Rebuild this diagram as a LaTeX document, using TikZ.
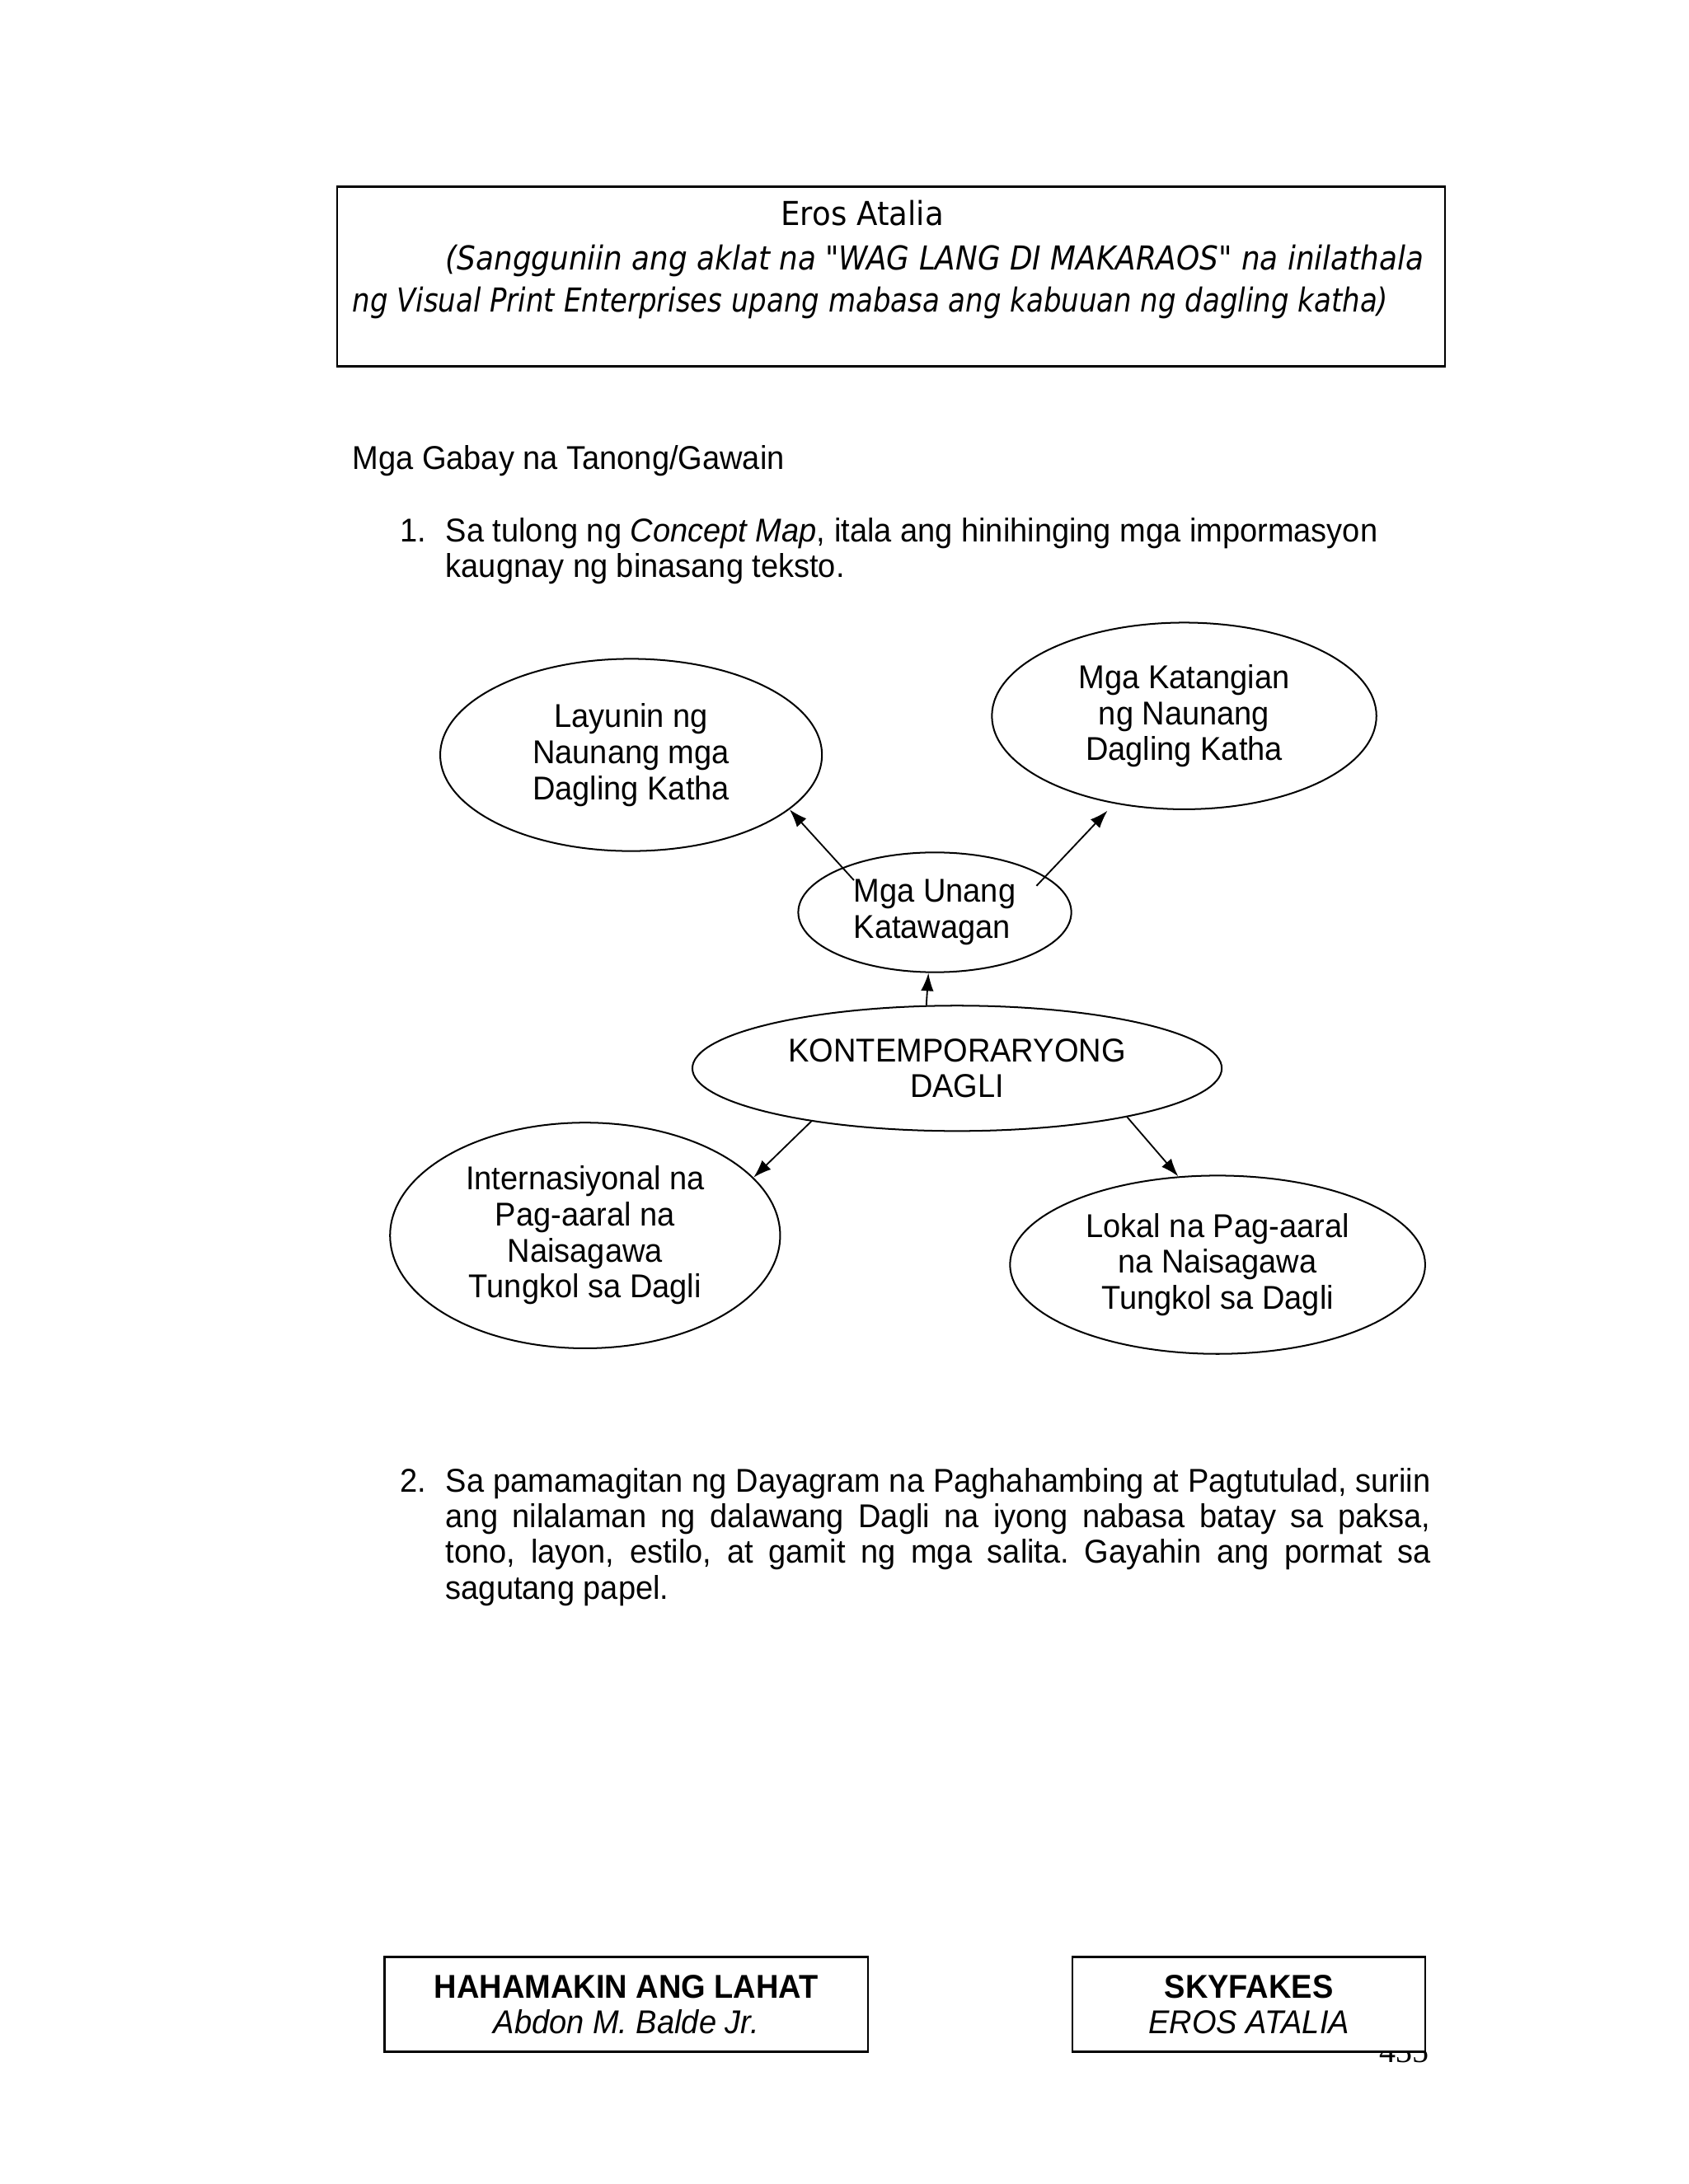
\documentclass[tikz,border=0pt]{standalone}
\usepackage{fontspec}
\setmainfont[FakeStretch=0.95]{Liberation Sans}
\newfontfamily\comicf[FakeStretch=0.88]{DejaVu Sans}
\newfontfamily\timesf{Liberation Serif}
\usetikzlibrary{shapes.geometric,arrows.meta}
\frenchspacing
\begin{document}
\begin{tikzpicture}[x=0.50495bp,y=-0.50495bp,
  txt/.style={inner sep=0pt, outer sep=0pt, font=\fontsize{12}{13}\selectfont},
  ctxt/.style={inner sep=0pt, outer sep=0pt, font=\comicf\fontsize{12}{15}\selectfont},
  citxt/.style={inner sep=0pt, outer sep=0pt, font=\comicf\itshape\fontsize{12}{15}\selectfont},
  ell/.style 2 args={ellipse, draw, line width=0.6bp, minimum width=#1*1.0099bp,
    minimum height=#2*1.0099bp, inner sep=0pt, align=center,
    font=\fontsize{12}{13.1}\selectfont},
  arr/.style={line width=0.55bp, -{Latex[length=6.5bp,width=4.6bp]}},
  pbox/.style={draw, line width=0.7bp, fill=white, inner sep=0pt}]
\path[use as bounding box, fill=white] (0,0) rectangle (1212,1568);

% top box
\node[pbox, minimum width=401.5bp, minimum height=65.1bp] (topbox) at (639.5,198.5) {};
\node[ctxt, anchor=base] (eros) at (619,162) {\scalebox{1.055}[1]{Eros Atalia}};
\node[citxt, anchor=base west] (ref1) at (320,194)
  {\scalebox{1.016}[1]{(Sangguniin ang aklat na "WAG LANG DI MAKARAOS" na inilathala}};
\node[citxt, anchor=base west] (ref2) at (253,224)
  {\scalebox{0.965}[1]{ng Visual Print Enterprises upang mabasa ang kabuuan ng dagling katha)}};

% heading and item 1
\node[txt, anchor=base west] (gabay) at (253,337) {Mga Gabay na Tanong/Gawain};
\node[txt, anchor=base west] (n1) at (287,389) {1.};
\node[txt, anchor=base west] (q1) at (320,389)
  {\parbox[t]{360bp}{\fontsize{12}{13}\selectfont Sa tulong ng \textit{Concept Map}, itala ang hinihinging mga impormasyon\\kaugnay ng binasang teksto.}};

% concept map
\node[ell={137}{69}] (lay) at (453,542) {Layunin ng\\Naunang mga\\Dagling Katha};
\node[ell={138}{67}] (kat) at (850,514) {Mga Katangian\\ng Naunang\\Dagling Katha};
\node[ell={98}{43}, align=left] (una) at (671,655) {Mga Unang\\Katawagan};
\node[ell={190}{45}] (kont) at (687,767) {KONTEMPORARYONG\\DAGLI};
\node[ell={140}{81}] (int) at (420,887) {Internasiyonal na\\Pag-aaral na\\Naisagawa\\Tungkol sa Dagli};
\node[ell={149}{64}] (lok) at (874,908) {Lokal na Pag-aaral\\na Naisagawa\\Tungkol sa Dagli};

\coordinate (t1) at (613,632);
\coordinate (t2) at (744,636);
\coordinate (k2) at (795,582);
\draw[arr] (t1) -- (lay.-19);
\draw[arr] (t2) -- (k2);
\draw[arr] (kont.116) -- (una.-96);
\draw[arr] (kont.200) -- (int.19);
\draw[arr] (kont.-16) -- (lok.114);

% item 2
\node[txt, anchor=base west] (n2) at (287,1071) {2.};
\node[txt, anchor=base west] (q2) at (320,1071)
  {\parbox[t]{357bp}{\fontsize{12}{13}\selectfont
   \makebox[357bp][s]{Sa pamamagitan ng Dayagram na Paghahambing at Pagtutulad, suriin}\\
   \makebox[357bp][s]{ang nilalaman ng dalawang Dagli na iyong nabasa batay sa paksa,}\\
   \makebox[357bp][s]{tono, layon, estilo, at gamit ng mga salita. Gayahin ang pormat sa}\\
   sagutang papel.}};

% page number (partly covered)
\node[inner sep=0pt, anchor=base east, font=\timesf\fontsize{12}{14}\selectfont] (pnum) at (1026,1481) {435};

% bottom boxes
\node[pbox, minimum width=175.2bp, minimum height=34.3bp] (bl) at (449.5,1439) {};
\node[txt, anchor=base, font=\bfseries\fontsize{12}{13}\selectfont] (blt) at (449.5,1434.5) {HAHAMAKIN ANG LAHAT};
\node[txt, anchor=base, font=\itshape\fontsize{12}{13}\selectfont] (blb) at (449.5,1460) {Abdon M. Balde Jr.};
\node[pbox, minimum width=127.8bp, minimum height=34.3bp] (br) at (896.5,1439) {};
\node[txt, anchor=base, font=\bfseries\fontsize{12}{13}\selectfont] (brt) at (896.5,1434.5) {SKYFAKES};
\node[txt, anchor=base, font=\itshape\fontsize{12}{13}\selectfont] (brb) at (896.5,1460) {EROS ATALIA};
\end{tikzpicture}
\end{document}
